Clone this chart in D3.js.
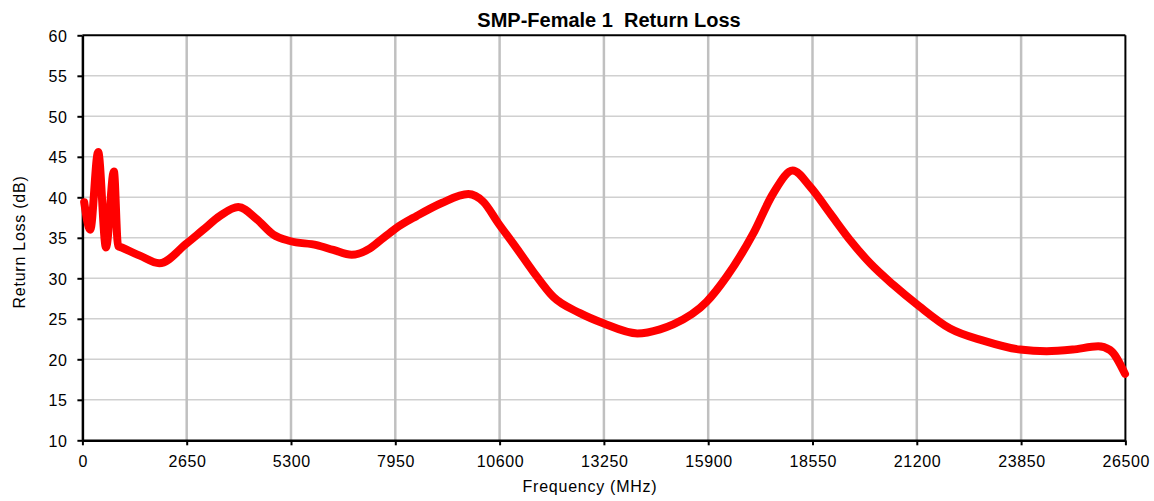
<!DOCTYPE html>
<html><head><meta charset="utf-8">
<script src="https://cdn.jsdelivr.net/npm/d3@7"></script>
<style>html,body{margin:0;padding:0;background:#fff;}svg{display:block;font-family:"Liberation Sans",Arial,sans-serif;}</style>
</head><body>
<svg id="chart" width="1154" height="501"></svg>
<script>
const title = "SMP-Female 1\u00A0\u00A0Return Loss";
const xLabel = "Frequency (MHz)";
const yLabel = "Return Loss (dB)";
const xTicks = [0,2650,5300,7950,10600,13250,15900,18550,21200,23850,26500];
const yTicks = [10,15,20,25,30,35,40,45,50,55,60];
const freq = [45,200,400,600,800,905,1000,1460,1954,2650,3072,3496,3961,4428,4851,5274,5952,6375,6842,7307,7600,7942,8494,9129,9805,10186,10567,11034,11457,11965,12642,13234,14100,14675,15013,15861,16369,17046,17554,18046,18491,19000,19507,20015,20602,21250,22044,22890,23822,24500,25159,25810,26108,26490];
const rl   = [39.4,36.0,45.6,33.8,43.2,34.0,33.8,32.8,31.85,34.3,36.0,37.7,38.8,37.3,35.4,34.6,34.1,33.5,32.9,33.7,34.8,36.1,37.7,39.3,40.4,39.45,36.8,33.7,30.8,27.7,25.7,24.45,23.2,23.7,24.3,27.1,30.2,35.55,40.5,43.3,41.3,38.0,34.7,31.85,29.2,26.6,23.8,22.3,21.2,21.0,21.2,21.6,21.15,18.2];

const svg = d3.select("#chart");
const L=82.4, R=1125.4, T=35.3, B=440.3;
const x = d3.scaleLinear().domain([0,26500]).range([L,R]);
const y = d3.scaleLinear().domain([10,60]).range([B,T]);

// gridlines
svg.append("g").selectAll("line").data(yTicks.slice(1,-1)).join("line")
  .attr("x1",L).attr("x2",R).attr("y1",d=>y(d)).attr("y2",d=>y(d))
  .attr("stroke","#d0d0d0").attr("stroke-width",1.5);
svg.append("g").selectAll("line").data(xTicks.slice(1,-1)).join("line")
  .attr("y1",T).attr("y2",B).attr("x1",d=>x(d)).attr("x2",d=>x(d))
  .attr("stroke","#c0c0c0").attr("stroke-width",2.5);

// frame top/right
svg.append("line").attr("x1",L).attr("x2",R).attr("y1",T).attr("y2",T).attr("stroke","#000").attr("stroke-width",2);
svg.append("line").attr("x1",R).attr("x2",R).attr("y1",T).attr("y2",B).attr("stroke","#000").attr("stroke-width",2);

// axes
const xAxis = svg.append("g").attr("transform",`translate(0,${B})`)
  .call(d3.axisBottom(x).tickValues(xTicks).tickFormat(d3.format("d")).tickSize(5).tickSizeOuter(0));
const yAxis = svg.append("g").attr("transform",`translate(${L},0)`)
  .call(d3.axisLeft(y).tickValues(yTicks).tickFormat(d3.format("d")).tickSize(5).tickSizeOuter(0));
[xAxis,yAxis].forEach(g=>{
  g.select(".domain").attr("stroke","#000").attr("stroke-width",2.5);
  g.selectAll(".tick line").attr("stroke","#000").attr("stroke-width",2);
  g.selectAll(".tick text").attr("fill","#000").attr("font-size",16).attr("letter-spacing","0.6px")
    .attr("font-family","Liberation Sans, Arial, sans-serif");
});
xAxis.selectAll(".tick text").attr("dy","0").attr("y",27).attr("dx","0.3px");
yAxis.selectAll(".tick text").attr("x",-15).attr("dy","0.36em");

// line
const line = d3.line().x((d,i)=>x(freq[i])).y((d,i)=>y(rl[i])).curve(d3.curveMonotoneX);
svg.append("path").datum(rl).attr("d",line).attr("fill","none")
  .attr("stroke","#ff0000").attr("stroke-width",8).attr("stroke-linejoin","round").attr("stroke-linecap","round");

// titles
svg.append("text").attr("x",609).attr("y",27).attr("text-anchor","middle")
  .attr("font-size",20).attr("font-weight","bold").text(title);
svg.append("text").attr("x",590).attr("y",492).attr("text-anchor","middle")
  .attr("font-size",16).attr("letter-spacing","0.75px").text(xLabel);
svg.append("text").attr("transform",`translate(25,242) rotate(-90)`).attr("text-anchor","middle")
  .attr("font-size",16).attr("letter-spacing","0.75px").text(yLabel);
</script>
</body></html>
